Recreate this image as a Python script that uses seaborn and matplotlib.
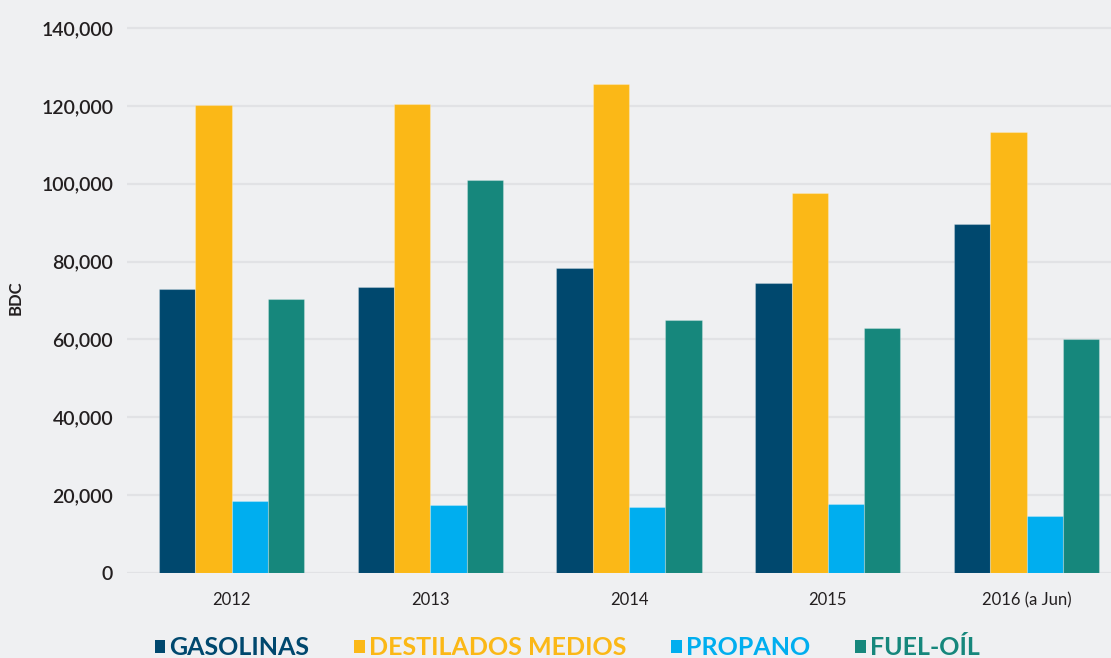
import matplotlib
matplotlib.use("Agg")
import matplotlib.pyplot as plt
import seaborn as sns
import pandas as pd
from matplotlib.patches import Patch

# Volúmenes anuales por producto (barriles por día calendario)
years = ["2012", "2013", "2014", "2015", "2016 (a Jun)"]
productos = ["GASOLINAS", "DESTILADOS MEDIOS", "PROPANO", "FUEL-OÍL"]
gasolinas = [72900, 73500, 78300, 74500, 89600]
destilados = [120200, 120500, 125600, 97600, 113400]
propano = [18600, 17400, 17000, 17700, 14600]
fueloil = [70300, 100900, 64900, 62900, 60100]
colores = ["#00486e", "#fbb817", "#00aeef", "#16877c"]
yticks = [0, 20000, 40000, 60000, 80000, 100000, 120000, 140000]

series = [gasolinas, destilados, propano, fueloil]
df = pd.DataFrame(
    [(y, p, v) for p, vals in zip(productos, series) for y, v in zip(years, vals)],
    columns=["year", "producto", "bdc"],
)

bg = "#eff0f2"
grid_c = "#e1e2e5"
text_c = "#231f20"

sns.set_theme(style="white")
plt.rcParams["font.family"] = ["Lato", "DejaVu Sans"]

fig = plt.figure(figsize=(11.11, 6.58), dpi=100, facecolor=bg)
ax = fig.add_axes([0.1143, 0.1292, 0.8857, 0.852])
ax.set_facecolor(bg)

sns.barplot(
    data=df, x="year", y="bdc", hue="producto", order=years, hue_order=productos,
    palette=colores, width=0.73, gap=0, saturation=1, ax=ax, legend=False,
    edgecolor=(1, 1, 1, 0.25), linewidth=0.8, zorder=3,
)

ax.set_ylim(0, 144000)
ax.set_xlim(-0.526, 4.425)
ax.set_yticks(yticks)
ax.set_yticklabels([f"{v:,}" for v in yticks], fontsize=14, fontweight="semibold", color=text_c)
ax.tick_params(axis="x", labelsize=12, colors=text_c, length=0, pad=14)
ax.tick_params(axis="y", length=0, pad=10)
for lbl in ax.get_xticklabels():
    lbl.set_color(text_c)

ax.yaxis.grid(True, color=grid_c, linewidth=1.6, zorder=0)
ax.set_axisbelow(True)
for s in ax.spines.values():
    s.set_visible(False)

ax.set_xlabel("")
ax.set_ylabel("BDC", fontsize=12, fontweight="bold", color=text_c)
ax.yaxis.set_label_coords(-0.1047, 0.4906)

handles = [Patch(facecolor=c, edgecolor="none") for c in colores]
fig.legend(
    handles, productos, ncol=4, loc="center", bbox_to_anchor=(0.5105, 0.016),
    frameon=False, prop={"size": 18, "weight": "bold"}, labelcolor=colores,
    handlelength=0.42, handleheight=0.42, handletextpad=0.16, columnspacing=1.8,
    borderaxespad=0, borderpad=0,
)

fig.savefig("out.png", dpi=100, facecolor=bg)
